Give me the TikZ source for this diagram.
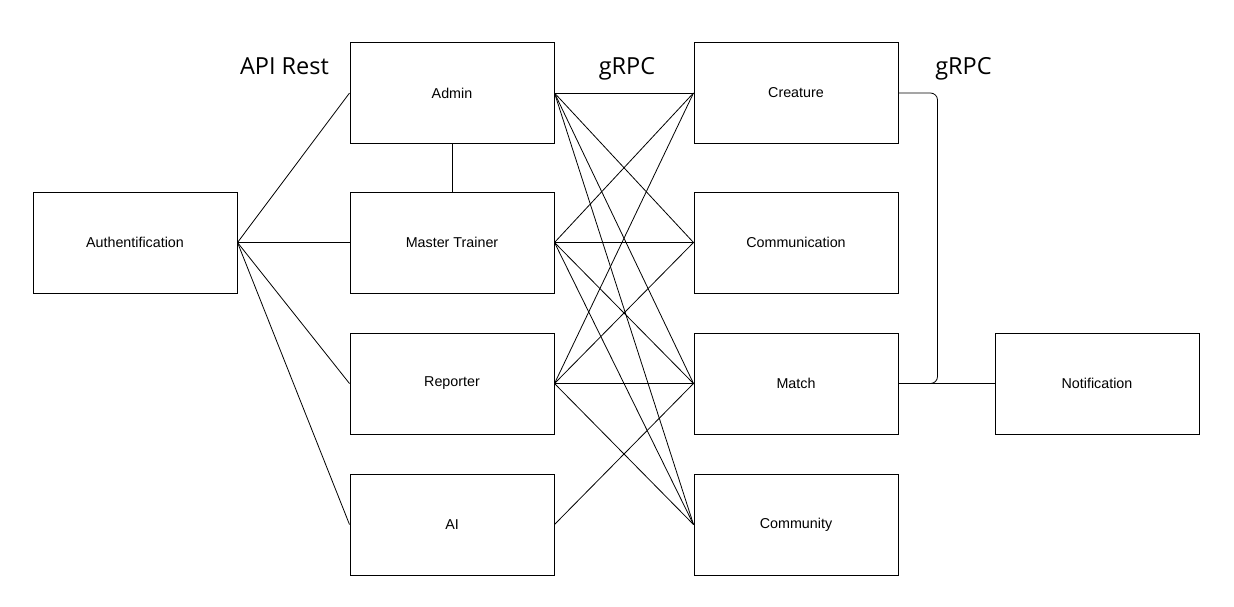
\documentclass[tikz,border=0pt]{standalone}
\usepackage{fontspec}
\setmainfont{Liberation Sans}
\newfontfamily\headfont{Open Sans}

\begin{document}
\begin{tikzpicture}[x=1pt, y=-1pt,
  service/.style={draw, line width=1pt, minimum width=204pt, minimum height=101pt,
    inner sep=0pt, font=\fontsize{14.3}{17}\selectfont},
  proto/.style={anchor=base, font=\headfont\fontsize{23.5}{28}\selectfont},
  link/.style={line width=0.8pt}]
\useasboundingbox (0,0) rectangle (1234,606);

% Gateway
\node[service] (auth) at (135,242.5) {Authentification};

% API Rest services
\node[service] (admin) at (452,93) {Admin};
\node[service] (trainer) at (452,242.5) {Master Trainer};
\node[service] (reporter) at (452,383.5) {Reporter};
\node[service] (ai) at (452,524.5) {AI};

% gRPC services
\node[service] (creature) at (796,93) {Creature};
\node[service] (communication) at (796,242.5) {Communication};
\node[service] (match) at (796,383.5) {Match};
\node[service] (community) at (796,524.5) {Community};
\node[service] (notification) at (1097,383.5) {Notification};

% Protocol labels
\node[proto] (rest) at (284.5,74) {API Rest};
\node[proto] (grpc1) at (627,74) {gRPC};
\node[proto] (grpc2) at (963.5,74) {gRPC};

% Authentification to API services
\foreach \dst in {admin,trainer,reporter,ai}
  \draw[link] (auth.east) -- (\dst.west);
\draw[link] (admin) -- (trainer);

% API services to gRPC services
\foreach \src in {admin,trainer,reporter}
  \foreach \dst in {creature,communication,match,community}
    \draw[link] (\src.east) -- (\dst.west);
\draw[link] (ai.east) -- (match.west);

% Notification links
\draw[link, rounded corners=7pt] (creature.east) -- ++(39,0) |- (match.east);
\draw[link] (match) -- (notification);
\end{tikzpicture}
\end{document}
